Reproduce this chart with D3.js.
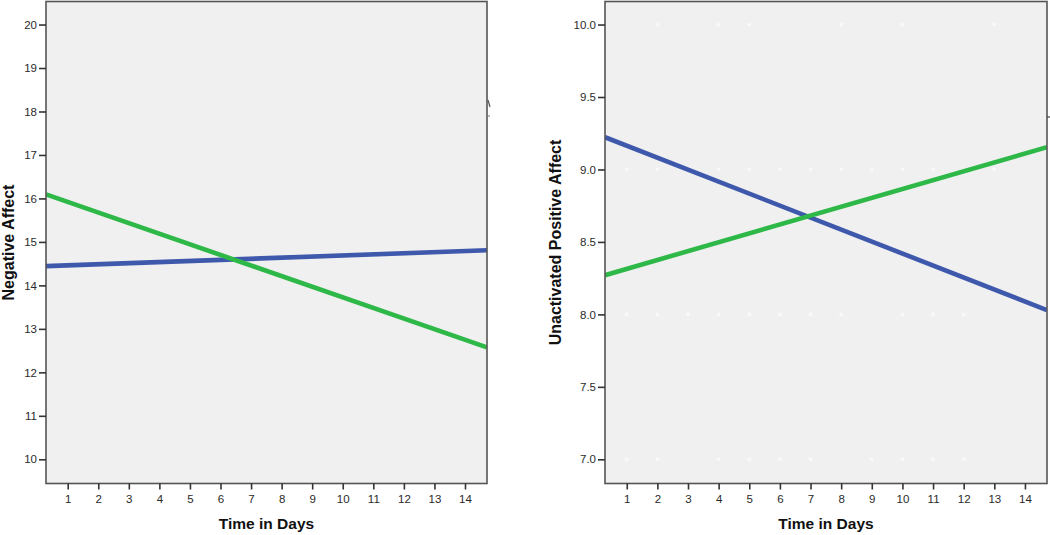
<!DOCTYPE html>
<html>
<head>
<meta charset="utf-8">
<script src="https://cdn.jsdelivr.net/npm/d3@7"></script>
<style>
  html, body { margin: 0; padding: 0; background: #ffffff; }
  svg { display: block; }
</style>
</head>
<body>
<div id="chart"></div>
<script>
// ---------------- data ----------------
const days = [1, 2, 3, 4, 5, 6, 7, 8, 9, 10, 11, 12, 13, 14];

// Left panel: Negative Affect, fitted values at day 1 and day 14
const negTicks = [10, 11, 12, 13, 14, 15, 16, 17, 18, 19, 20];
const negBlue  = [14.46, 14.79];   // [day 1, day 14]
const negGreen = [15.92, 12.75];   // [day 1, day 14]

// Right panel: Unactivated Positive Affect, fitted values at day 1 and day 14
const posTicks = [7.0, 7.5, 8.0, 8.5, 9.0, 9.5, 10.0];
const posBlue  = [9.164, 8.089];
const posGreen = [8.314, 9.110];

// Faint (white) observed points in the right panel: days at each level
const posDots10 = [2, 4, 5, 8, 10, 13];
const posDots9  = [1, 2, 4, 5, 6, 7, 8, 9, 10, 11, 13];
const posDots8  = [1, 2, 3, 4, 5, 6, 7, 8, 10, 11, 12];
const posDots7  = [1, 2, 4, 5, 6, 7, 9, 10, 11, 12];

// ---------------- drawing ----------------
const W = 1050, H = 535;
const BLUE = "#3E58AC", GREEN = "#2EB848";
const FONT = "'Liberation Sans', Arial, sans-serif";

const svg = d3.select("#chart").append("svg")
  .attr("width", W).attr("height", H)
  .style("font-family", FONT);

function panel(opts) {
  const { left, right, top, bottom, yDomain, yTicks, yFormat, yTitle, series, dots, id } = opts;
  const x = d3.scaleLinear().domain([0.29, 14.72]).range([left, right]);
  const y = d3.scaleLinear().domain(yDomain).range([bottom, top]);

  const g = svg.append("g");

  g.append("rect")
    .attr("x", left).attr("y", top)
    .attr("width", right - left).attr("height", bottom - top)
    .attr("fill", "#F0F0F0");

  const clipId = "clip-" + id;
  svg.append("clipPath").attr("id", clipId)
    .append("rect").attr("x", left).attr("y", top)
    .attr("width", right - left).attr("height", bottom - top);

  const plot = g.append("g").attr("clip-path", `url(#${clipId})`);

  dots.forEach(d => {
    plot.selectAll(null).data(d.days).enter().append("circle")
      .attr("cx", v => x(v)).attr("cy", y(d.level))
      .attr("r", 1.8)
      .attr("fill", "#f9f9f9")
      .attr("stroke", "#f5f5f5").attr("stroke-width", 0.5);
  });

  const [x0, x1] = x.domain();
  const line = d3.line().x(d => x(d[0])).y(d => y(d[1]));
  series.forEach(s => {
    const slope = (s.values[1] - s.values[0]) / 13;
    const pts = [x0, x1].map(t => [t, s.values[0] + (t - 1) * slope]);
    plot.append("path")
      .datum(pts)
      .attr("d", line)
      .attr("fill", "none")
      .attr("stroke", s.color)
      .attr("stroke-width", 4.6);
  });

  g.append("rect")
    .attr("x", left).attr("y", top)
    .attr("width", right - left).attr("height", bottom - top)
    .attr("fill", "none")
    .attr("stroke", "#555")
    .attr("stroke-width", 1.6);

  const yAxis = d3.axisLeft(y).tickValues(yTicks).tickFormat(d3.format(yFormat))
    .tickSize(7).tickPadding(2);
  const ya = g.append("g").attr("transform", `translate(${left},0)`).call(yAxis);
  ya.select(".domain").remove();
  ya.selectAll(".tick line").attr("stroke", "#333").attr("stroke-width", 1.6);
  ya.selectAll(".tick text").attr("fill", "#2a2a2a")
    .style("font-size", "11.5px").style("font-family", FONT);

  const xAxis = d3.axisBottom(x).tickValues(days).tickFormat(d3.format("d"))
    .tickSize(6).tickPadding(5);
  const xa = g.append("g").attr("transform", `translate(0,${bottom})`).call(xAxis);
  xa.select(".domain").remove();
  xa.selectAll(".tick line").attr("stroke", "#333").attr("stroke-width", 1.6);
  xa.selectAll(".tick text").attr("fill", "#2a2a2a")
    .style("font-size", "11.5px").style("font-family", FONT);

  g.append("text")
    .attr("x", (left + right) / 2).attr("y", 529)
    .attr("text-anchor", "middle")
    .style("font-size", "15.5px").style("font-weight", "bold")
    .attr("fill", "#111")
    .text("Time in Days");

  g.append("text")
    .attr("transform", `translate(${opts.yTitleX},${(top + bottom) / 2}) rotate(-90)`)
    .attr("text-anchor", "middle")
    .style("font-size", "16px").style("font-weight", "bold")
    .attr("fill", "#111")
    .text(yTitle);

  return g;
}

panel({
  id: "neg",
  left: 46, right: 487, top: 1.5, bottom: 483.5,
  yDomain: [9.443, 20.53],
  yTicks: negTicks, yFormat: "d",
  yTitle: "Negative Affect", yTitleX: 14,
  series: [{ values: negBlue, color: BLUE }, { values: negGreen, color: GREEN }],
  dots: []
});

panel({
  id: "pos",
  left: 605, right: 1047, top: 1.5, bottom: 483.5,
  yDomain: [6.833, 10.159],
  yTicks: posTicks, yFormat: ".1f",
  yTitle: "Unactivated Positive Affect", yTitleX: 561,
  series: [{ values: posBlue, color: BLUE }, { values: posGreen, color: GREEN }],
  dots: [
    { level: 10.0, days: posDots10 },
    { level: 9.0, days: posDots9 },
    { level: 8.0, days: posDots8 },
    { level: 7.0, days: posDots7 }
  ]
});

svg.append("line").attr("x1", 1047).attr("x2", 1050).attr("y1", 117).attr("y2", 117)
  .attr("stroke", "#444").attr("stroke-width", 1.2);
svg.append("line").attr("x1", 488).attr("x2", 490).attr("y1", 100).attr("y2", 107)
  .attr("stroke", "#555").attr("stroke-width", 1.2);
svg.append("line").attr("x1", 488).attr("x2", 490).attr("y1", 116).attr("y2", 116)
  .attr("stroke", "#777").attr("stroke-width", 1);
</script>
</body>
</html>
